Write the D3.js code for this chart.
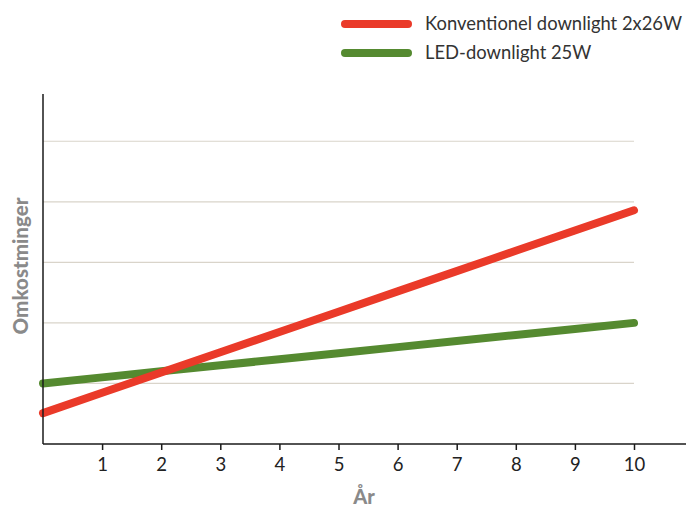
<!DOCTYPE html>
<html>
<head>
<meta charset="utf-8">
<script src="https://cdn.jsdelivr.net/npm/d3@7"></script>
<style>
  html, body { margin: 0; padding: 0; background: #fff; }
  svg { display: block; }
  text { font-family: Lato, "Open Sans", sans-serif; }
</style>
</head>
<body>
<svg id="chart" width="699" height="509"></svg>
<script>
// Years on the x axis
const years = [0, 1, 2, 3, 4, 5, 6, 7, 8, 9, 10];
const xTicks = [1, 2, 3, 4, 5, 6, 7, 8, 9, 10];
// Cost levels (relative units) for the two fittings
const conventional = [0.51, 0.845, 1.18, 1.515, 1.85, 2.185, 2.52, 2.855, 3.19, 3.525, 3.86];
const led = [1.0, 1.1, 1.2, 1.3, 1.4, 1.5, 1.6, 1.7, 1.8, 1.9, 2.0];
const gridValues = [1, 2, 3, 4, 5];
const seriesNames = ["Konventionel downlight 2x26W", "LED-downlight 25W"];
const seriesColors = ["#ea3a29", "#558a30"];

const svg = d3.select("#chart");
const left = 43, bottom = 444, plotRight = 634;

const x = d3.scaleLinear().domain([0, 10]).range([left, plotRight]);
const y = d3.scaleLinear().domain([0, 5.78]).range([bottom, 94]);

// horizontal grid
svg.append("g")
  .selectAll("line")
  .data(gridValues)
  .join("line")
  .attr("x1", left).attr("x2", plotRight)
  .attr("y1", d => y(d)).attr("y2", d => y(d))
  .attr("stroke", "#d9d4ca").attr("stroke-width", 1.2);

// series lines (LED first so the conventional line sits on top)
const line = d3.line().x((d, i) => x(years[i])).y(d => y(d));
[[led, seriesColors[1]], [conventional, seriesColors[0]]].forEach(([vals, color]) => {
  svg.append("path")
    .datum(vals)
    .attr("d", line)
    .attr("fill", "none")
    .attr("stroke", color)
    .attr("stroke-width", 8)
    .attr("stroke-linecap", "round");
});

// x axis
const xAxis = d3.axisBottom(x).tickValues(xTicks).tickSize(6).tickPadding(8).tickFormat(d3.format("d"));
const gx = svg.append("g").attr("transform", `translate(0,${bottom})`).call(xAxis);
gx.select(".domain").remove();
gx.append("line").attr("x1", left).attr("x2", 686).attr("stroke", "#1a1a1a").attr("stroke-width", 1.5);
gx.selectAll(".tick line").attr("stroke", "#1a1a1a").attr("stroke-width", 1.5);
gx.selectAll(".tick text").attr("fill", "#222").attr("font-size", 18.5)
  .style("font-family", "Lato, sans-serif");

// y axis line (no ticks)
svg.append("line")
  .attr("x1", left).attr("x2", left).attr("y1", 94).attr("y2", bottom)
  .attr("stroke", "#1a1a1a").attr("stroke-width", 1.5);

// legend
const legend = svg.append("g");
seriesNames.forEach((name, i) => {
  const ly = 24 + i * 29;
  legend.append("line")
    .attr("x1", 345).attr("x2", 408).attr("y1", ly).attr("y2", ly)
    .attr("stroke", seriesColors[i]).attr("stroke-width", 8).attr("stroke-linecap", "round");
  legend.append("text")
    .attr("x", 425).attr("y", ly + 6)
    .attr("font-size", 18.4).attr("fill", "#333")
    .text(name);
});

// axis titles
svg.append("text")
  .attr("transform", "translate(28,266) rotate(-90)")
  .attr("text-anchor", "middle")
  .attr("font-size", 20.5).attr("font-weight", 900).attr("fill", "#8a8a8a")
  .text("Omkostminger");
svg.append("text")
  .attr("x", 364).attr("y", 504)
  .attr("text-anchor", "middle")
  .attr("font-size", 20).attr("font-weight", 900).attr("fill", "#8a8a8a")
  .text("År");
</script>
</body>
</html>
